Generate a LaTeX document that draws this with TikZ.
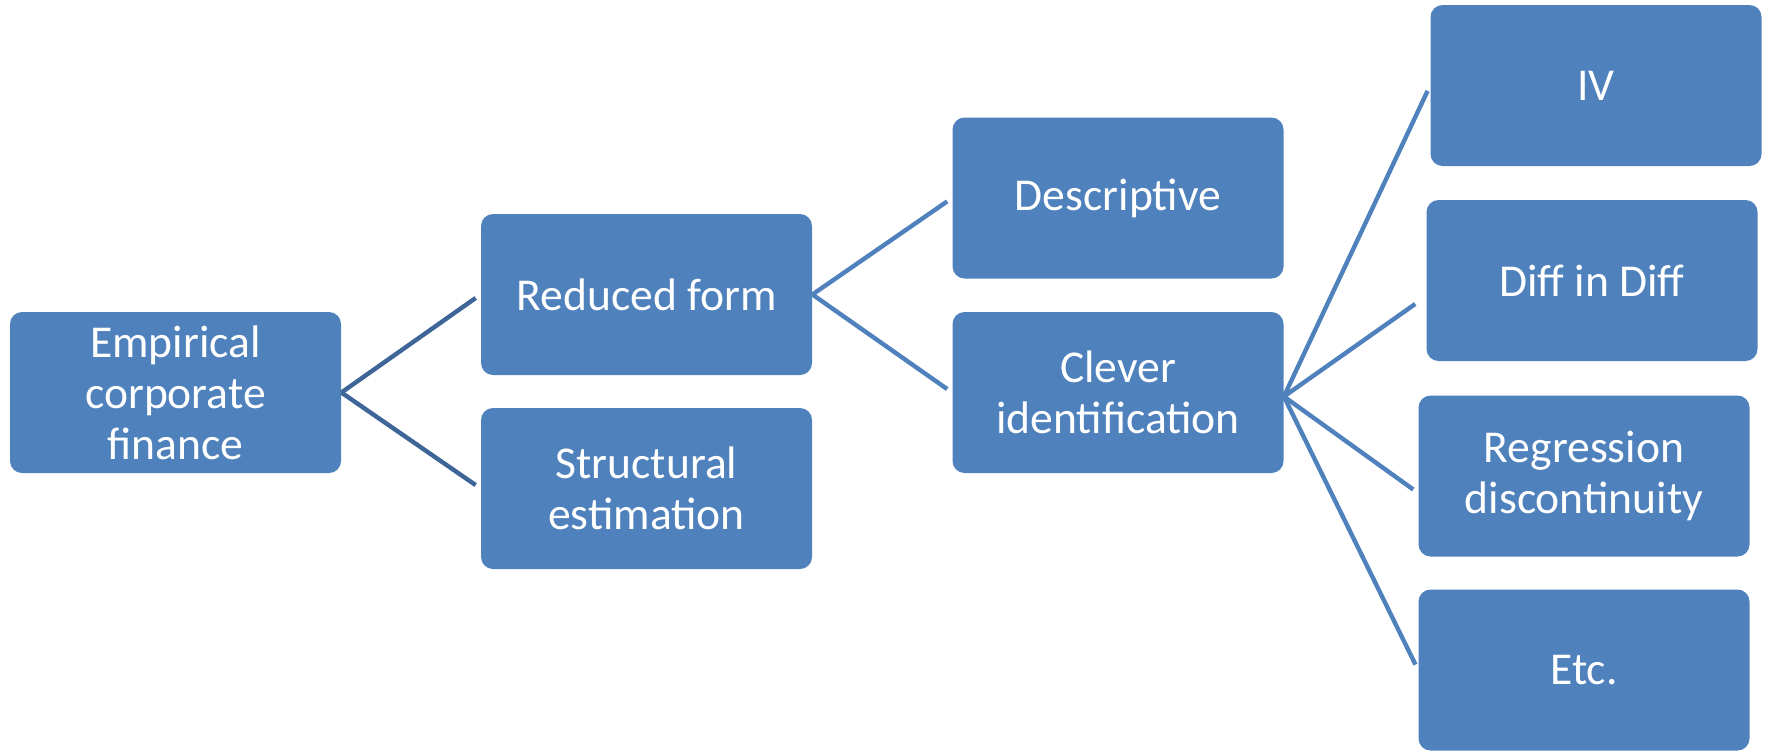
\documentclass[tikz,border=0pt]{standalone}
\usepackage{fontspec}
\setmainfont{Carlito}
\usepackage{tikz}

\definecolor{boxblue}{RGB}{79,129,189}
\definecolor{linkdark}{RGB}{62,101,152}

\begin{document}
\begin{tikzpicture}[x=0.5pt,y=-0.5pt,
	block/.style={rectangle, rounded corners=6pt, fill=boxblue, text=white,
		minimum width=165.5pt, minimum height=80.5pt, align=center,
		font=\fontsize{22.8}{25.5}\selectfont},
	link/.style={draw=boxblue, line width=2.2pt, shorten >=3pt},
	linkdark/.style={link, draw=linkdark}]
	\useasboundingbox (0,0) rectangle (1770,751);
	% levels, left to right
	\node[block] (emp)  at (175.5,392.5) {Empirical\\corporate\\finance};
	\node[block] (red)  at (646.5,294.5) {Reduced form};
	\node[block] (str)  at (646.5,488.5) {Structural\\estimation};
	\node[block] (desc) at (1118,198)    {Descriptive};
	\node[block] (clev) at (1118,392.5)  {Clever\\identification};
	\node[block] (iv)   at (1596,85.5)   {IV};
	\node[block] (did)  at (1592,280.5)  {Diff in Diff};
	\node[block] (rd)   at (1584,476)    {Regression\\discontinuity};
	\node[block] (etc)  at (1584,670)    {Etc.};
	\path[linkdark]
	(emp.east) edge (red.west)
	           edge (str.west)
	;
	\path[link]
	(red.east) edge (desc.west)
	           edge (clev.west)
	([yshift=-2pt]clev.east) edge (iv.west)
	           edge ([xshift=-3pt,yshift=-10pt]did.west)
	           edge ([yshift=-8.5pt]rd.west)
	           edge (etc.west)
	;
\end{tikzpicture}
\end{document}
